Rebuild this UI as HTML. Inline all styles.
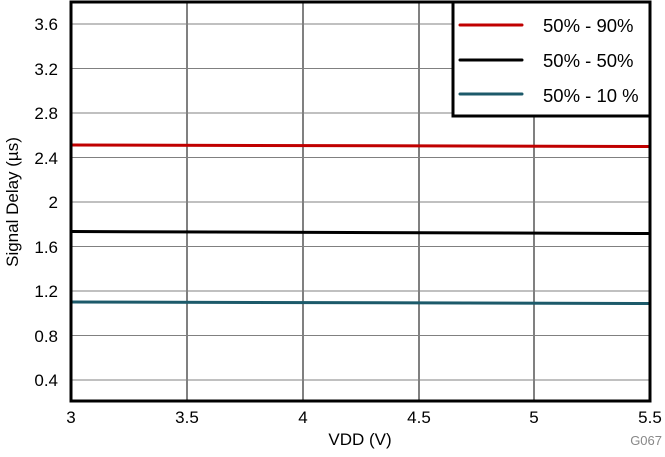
<!DOCTYPE html>
<html><head><style>body{margin:0;background:#fff}</style></head><body>
<svg width="665" height="452" xmlns="http://www.w3.org/2000/svg" font-family="Liberation Sans, sans-serif" font-size="17">
<rect width="665" height="452" fill="#fff"/>
<g stroke="#000" stroke-width="1">
<line x1="187" y1="3" x2="187" y2="401"/><line x1="303" y1="3" x2="303" y2="401"/><line x1="419" y1="3" x2="419" y2="401"/><line x1="534" y1="3" x2="534" y2="401"/>
</g>
<g stroke="#808080" stroke-width="1">
<line x1="71" y1="380" x2="650" y2="380"/><line x1="71" y1="335.5" x2="650" y2="335.5"/><line x1="71" y1="291" x2="650" y2="291"/><line x1="71" y1="246.5" x2="650" y2="246.5"/><line x1="71" y1="202" x2="650" y2="202"/><line x1="71" y1="157.5" x2="650" y2="157.5"/><line x1="71" y1="113" x2="650" y2="113"/><line x1="71" y1="68.5" x2="650" y2="68.5"/><line x1="71" y1="24" x2="650" y2="24"/>
</g>
<polyline points="71,145 650,146.5" stroke="#c00000" stroke-width="3" fill="none"/>
<polyline points="71,231.5 650,233.5" stroke="#000" stroke-width="3" fill="none"/>
<polyline points="71,302 650,303.5" stroke="#1c5a6a" stroke-width="3" fill="none"/>
<rect x="71" y="2" width="579" height="399" fill="none" stroke="#000" stroke-width="3"/>
<rect x="453" y="2" width="197" height="114" fill="#fff" stroke="#000" stroke-width="3"/>
<line x1="460" y1="25" x2="522" y2="25" stroke="#c00000" stroke-width="3" stroke-linecap="round"/>
<line x1="460" y1="60" x2="522" y2="60" stroke="#000" stroke-width="3" stroke-linecap="round"/>
<line x1="460" y1="94" x2="522" y2="94" stroke="#1c5a6a" stroke-width="3" stroke-linecap="round"/>
<g font-size="18.5">
<text x="543" y="32">50% - 90%</text>
<text x="543" y="67">50% - 50%</text>
<text x="543" y="102">50% - 10 %</text>
</g>
<g text-anchor="end">
<text x="58" y="386">0.4</text><text x="58" y="342">0.8</text><text x="58" y="297">1.2</text><text x="58" y="253">1.6</text><text x="58" y="208">2</text><text x="58" y="164">2.4</text><text x="58" y="119">2.8</text><text x="58" y="75">3.2</text><text x="58" y="30">3.6</text>
</g>
<g text-anchor="middle">
<text x="71" y="423">3</text><text x="187" y="423">3.5</text><text x="303" y="423">4</text><text x="419" y="423">4.5</text><text x="534" y="423">5</text><text x="650" y="423">5.5</text>
<text x="360" y="445">VDD (V)</text>
<text transform="translate(18,202) rotate(-90)">Signal Delay (µs)</text>
</g>
<text x="662" y="445" text-anchor="end" font-size="13" fill="#888">G067</text>
</svg>
</body></html>
